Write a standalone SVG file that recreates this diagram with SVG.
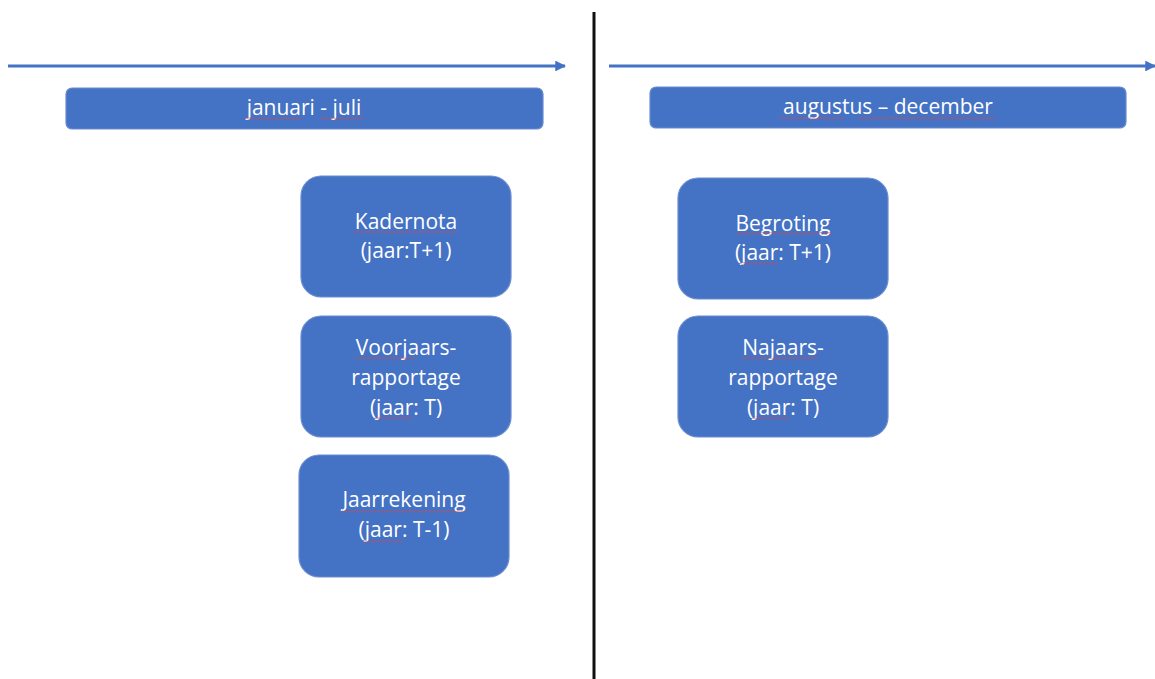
<svg xmlns="http://www.w3.org/2000/svg" width="1155" height="679" viewBox="0 0 1155 679">
<style>
.box{fill:#4472C4;stroke:#6A8CD0;stroke-width:1.2}
.t{font-family:"Open Sans","Noto Sans","Liberation Sans",sans-serif;font-size:21px;fill:#ffffff;text-anchor:middle}
.sq{fill:url(#sq)}
.axis{stroke:#4472C4;stroke-width:3;fill:none}
</style>
<defs>
<marker id="ah" viewBox="0 0 10 10" refX="9" refY="5" markerWidth="3.6" markerHeight="3.6" orient="auto" markerUnits="strokeWidth">
<path d="M0 0 L10 5 L0 10 z" fill="#4472C4"/>
</marker>
<pattern id="sq" width="4" height="3" patternUnits="userSpaceOnUse">
<path d="M0 2.5 L2 0.5 L4 2.5" stroke="#D9464A" stroke-width="0.8" fill="none"/>
</pattern>
</defs>
<rect width="1155" height="679" fill="#ffffff"/>
<g id="connectors">
<line class="axis" x1="8" y1="66" x2="565" y2="66" marker-end="url(#ah)"/>
<line class="axis" x1="609" y1="66" x2="1155" y2="66" marker-end="url(#ah)"/>
<line x1="594" y1="12" x2="594" y2="679" stroke="#111111" stroke-width="3"/>
</g>
<g id="hdr-left">
<rect class="box" x="66" y="88" width="477" height="41" rx="6"/>
<text class="t" x="304" y="115">januari - juli</text>
<rect class="sq" x="245" y="117" width="56" height="3"/>
<rect class="sq" x="320" y="117" width="44" height="3"/>
</g>
<g id="hdr-right">
<rect class="box" x="650" y="87" width="476" height="41" rx="6"/>
<text class="t" x="888" y="114">augustus – december</text>
<rect class="sq" x="780" y="116" width="64" height="3"/>
<rect class="sq" x="858" y="116" width="137" height="3"/>
</g>
<g id="kadernota">
<rect class="box" x="301" y="176" width="210" height="121" rx="20"/>
<text class="t" x="406" y="229">Kadernota</text>
<text class="t" x="406" y="258">(jaar:T+1)</text>
<rect class="sq" x="353" y="230" width="104" height="3"/>
</g>
<g id="voorjaarsrapportage">
<rect class="box" x="301" y="316" width="210" height="121" rx="20"/>
<text class="t" x="406" y="355">Voorjaars-</text>
<text class="t" x="406" y="385">rapportage</text>
<text class="t" x="406" y="415">(jaar: T)</text>
<rect class="sq" x="355" y="356" width="60" height="3"/>
<rect class="sq" x="375" y="416" width="38" height="3"/>
</g>
<g id="jaarrekening">
<rect class="box" x="299" y="455" width="210" height="122" rx="20"/>
<text class="t" x="404" y="507">Jaarrekening</text>
<text class="t" x="404" y="537">(jaar: T-1)</text>
<rect class="sq" x="342" y="510" width="123" height="3"/>
<rect class="sq" x="363" y="540" width="39" height="3"/>
</g>
<g id="begroting">
<rect class="box" x="678" y="178" width="210" height="121" rx="20"/>
<text class="t" x="783" y="231">Begroting</text>
<text class="t" x="783" y="260">(jaar: T+1)</text>
<rect class="sq" x="735" y="232" width="97" height="3"/>
<rect class="sq" x="740" y="262" width="38" height="3"/>
</g>
<g id="najaarsrapportage">
<rect class="box" x="678" y="316" width="210" height="121" rx="20"/>
<text class="t" x="783" y="355">Najaars-</text>
<text class="t" x="783" y="385">rapportage</text>
<text class="t" x="783" y="415">(jaar: T)</text>
<rect class="sq" x="742" y="356" width="76" height="3"/>
<rect class="sq" x="753" y="416" width="37" height="3"/>
</g>
</svg>
